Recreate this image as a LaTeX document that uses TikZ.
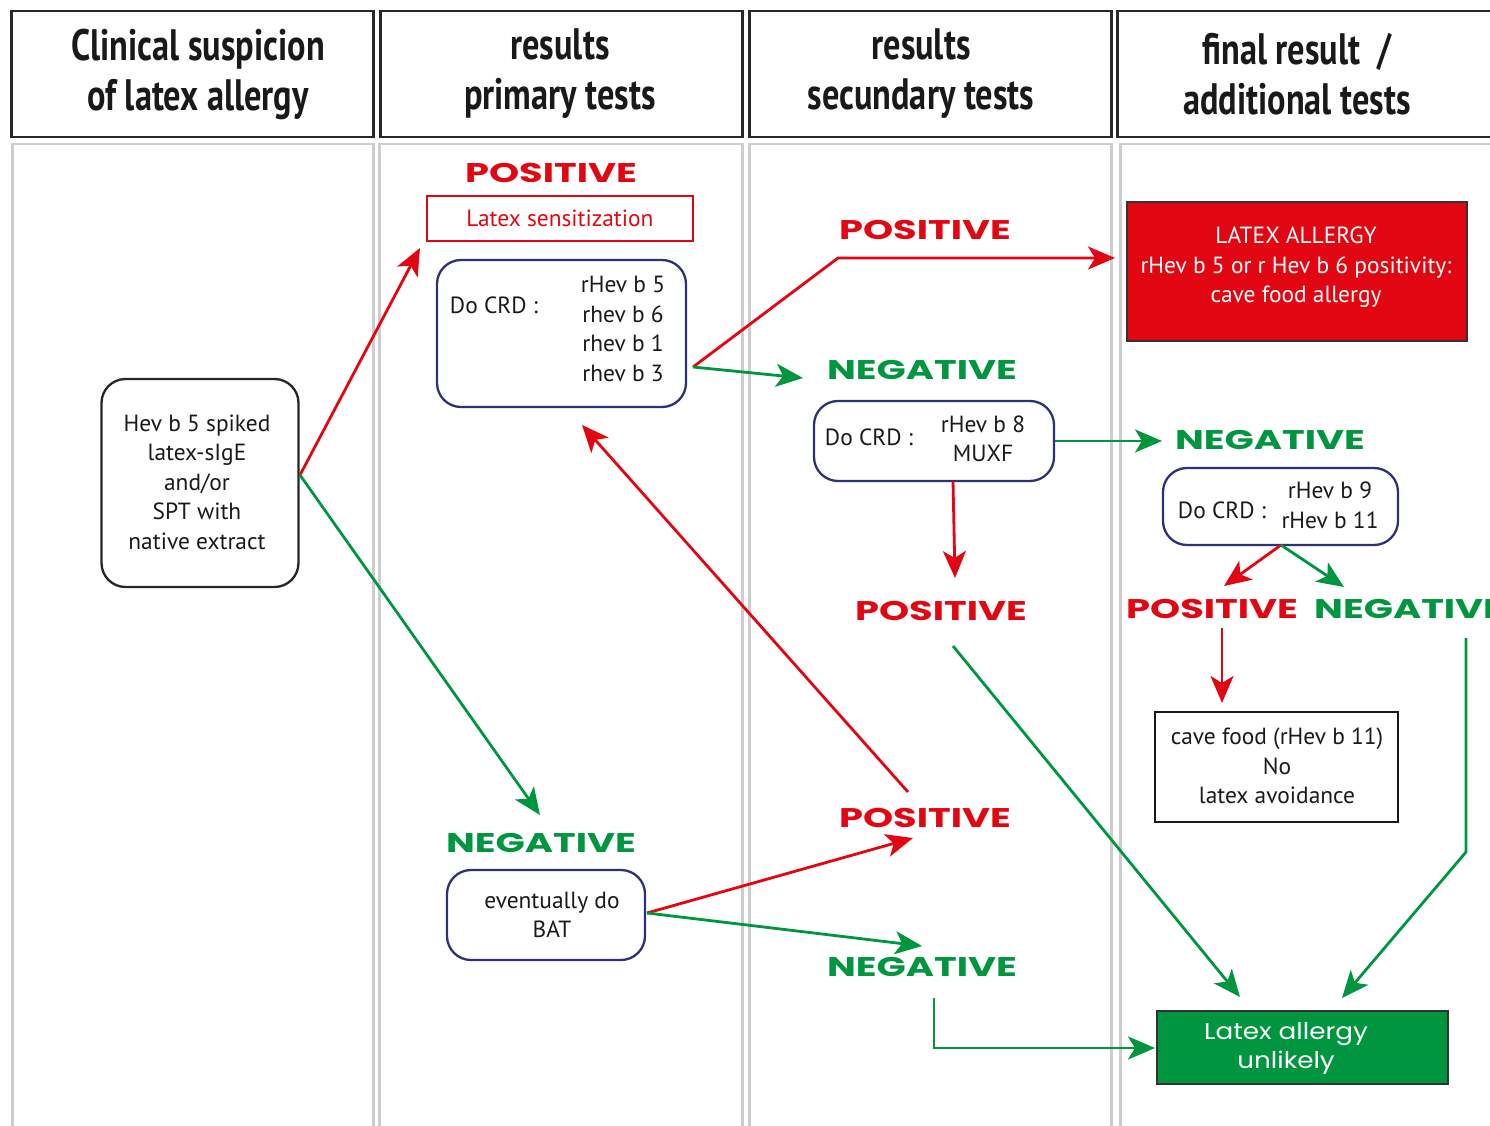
\documentclass[tikz,border=0pt]{standalone}
\usepackage{fontspec}
\setmainfont{PT Sans}
\newfontfamily\headfont[FakeStretch=0.78]{PT Sans}
\newfontfamily\capfont[FakeStretch=1.42]{Poppins}
\newfontfamily\widefont[FakeStretch=1.14]{Poppins}
\usetikzlibrary{arrows.meta}
\definecolor{myred}{RGB}{226,6,19}
\definecolor{mygreen}{RGB}{0,150,64}
\definecolor{myblue}{RGB}{46,49,120}
\definecolor{panelgray}{RGB}{205,205,205}
\definecolor{headline}{RGB}{40,40,40}
\tikzset{
  header/.style={draw=headline, line width=2.5pt, inner sep=0pt},
  headtext/.style={font=\headfont\bfseries\fontsize{44}{50}\selectfont, align=center, text=black!90},
  panel/.style={draw=panelgray, line width=2.5pt},
  rbox/.style={draw=#1, line width=2.3pt, rounded corners=24pt, inner sep=0pt},
  body/.style={font=\fontsize{23.4}{29.5}\selectfont, align=center, text=black!90},
  poslab/.style={font=\capfont\bfseries\fontsize{27}{30}\selectfont, text=myred},
  neglab/.style={font=\capfont\bfseries\fontsize{27}{30}\selectfont, text=mygreen},
  redarrow/.style={draw=myred, line width=2.8pt, -{Stealth[length=27pt,width=23pt,inset=7pt]}},
  greenarrow/.style={draw=mygreen, line width=2.8pt, -{Stealth[length=27pt,width=23pt,inset=7pt]}},
}
\begin{document}
\begin{tikzpicture}[x=1pt,y=-1pt]
\useasboundingbox (0,0) rectangle (1490,1126);
% panels
\node[panel, minimum width=361pt, minimum height=1000pt, anchor=north west] (p1) at (11,143) {};
\node[panel, minimum width=363pt, minimum height=1000pt, anchor=north west] (p2) at (378,143) {};
\node[panel, minimum width=362pt, minimum height=1000pt, anchor=north west] (p3) at (748,143) {};
\node[panel, minimum width=400pt, minimum height=1000pt, anchor=north west] (p4) at (1119,143) {};
% headers
\node[header, minimum width=362pt, minimum height=126pt, anchor=north west] (h1) at (10,10) {};
\node[header, minimum width=362pt, minimum height=126pt, anchor=north west] (h2) at (379,10) {};
\node[header, minimum width=362pt, minimum height=126pt, anchor=north west] (h3) at (748,10) {};
\node[header, minimum width=400pt, minimum height=126pt, anchor=north west] (h4) at (1116,10) {};
\node[headtext] (t1) at (198,74) {Clinical suspicion\\of latex allergy};
\node[headtext] (t2) at (560,74) {results\\primary tests};
\node[headtext] (t3) at (921,74) {results\\secundary tests};
\node[headtext] (t4) at (1297,74) {final result~~/\\additional tests};

% start box
\node[rbox=black!85, minimum width=197pt, minimum height=208pt] (st) at (200,483) {};
\node[body] (stt) at (197,482) {Hev b 5 spiked\\latex-sIgE\\and/or\\SPT with\\native extract};

% primary positive
\node[poslab] (pos1) at (551,173) {POSITIVE};
\node[draw=myred, line width=2pt, minimum width=266pt, minimum height=45pt, inner sep=0pt, font=\fontsize{23.4}{25}\selectfont, text=myred] (ls) at (560,218.5) {Latex sensitization};
\node[rbox=myblue, minimum width=249pt, minimum height=147pt] (crd1) at (561.5,333.5) {};
\node[body] (crd1a) at (494,305) {Do CRD :};
\node[body] (crd1b) at (623,329) {rHev b 5\\rhev b 6\\rhev b 1\\rhev b 3};

% secondary
\node[poslab] (pos2) at (925,230) {POSITIVE};
\node[draw=black!80, line width=1.5pt, fill=myred, minimum width=340pt, minimum height=139pt, inner sep=0pt] (la) at (1297,271.5) {};
\node[body, text=white] (lat) at (1296,267.5) {LATEX ALLERGY\\rHev b 5 or r Hev b 6 positivity:\\cave food allergy};
\node[neglab] (neg1) at (922,370) {NEGATIVE};
\node[rbox=myblue, minimum width=240pt, minimum height=80pt] (crd2) at (934,441) {};
\node[body] (crd2a) at (869,437) {Do CRD :};
\node[body] (crd2b) at (983,439) {rHev b 8\\MUXF};
\node[neglab] (neg2) at (1270,440) {NEGATIVE};
\node[rbox=myblue, minimum width=235pt, minimum height=77pt] (crd3) at (1280.5,506.5) {};
\node[body] (crd3a) at (1222,510) {Do CRD :};
\node[body] (crd3b) at (1330,505.5) {rHev b 9\\rHev b 11};
\node[poslab] (pos3) at (941,611) {POSITIVE};
\node[poslab] (pos4) at (1212,609) {POSITIVE};
\node[neglab, anchor=west, inner sep=0pt] (neg3) at (1314,609) {NEGATIVE};
\node[draw=black!90, line width=2.5pt, minimum width=243pt, minimum height=110pt, inner sep=0pt] (cf) at (1276.5,767) {};
\node[body] (cft) at (1277,766) {cave food (rHev b 11)\\No\\latex avoidance};

% lower
\node[poslab] (pos5) at (925,818) {POSITIVE};
\node[neglab] (neg4) at (541,843) {NEGATIVE};
\node[rbox=myblue, minimum width=198pt, minimum height=90pt] (bat) at (546,915) {};
\node[body] (batt) at (552,915) {eventually do\\BAT};
\node[neglab] (neg5) at (922,967) {NEGATIVE};
\node[draw=black!80, line width=1.5pt, fill=mygreen, minimum width=291pt, minimum height=73pt, inner sep=0pt] (un) at (1302.5,1047.5) {};
\node[font=\widefont\fontsize{23}{29}\selectfont, text=white, align=center] (unt) at (1286,1048.5) {Latex allergy\\unlikely};

% coordinates
\coordinate (stout) at (300,475);
\coordinate (a1e) at (420,248);
\coordinate (a2e) at (540,815);
\coordinate (c1out) at (693,367);
\coordinate (a3m) at (838,258);
\coordinate (a3e) at (1115,258);
\coordinate (a4e) at (803,378);
\coordinate (a5e) at (1162,441);
\coordinate (a6s) at (953,481);
\coordinate (a6e) at (955,578);
\coordinate (c3out) at (1281,545);
\coordinate (a7e) at (1224,586);
\coordinate (a8e) at (1344,587);
\coordinate (a9s) at (1222,628);
\coordinate (a9e) at (1222,703);
\coordinate (a10s) at (1466,638);
\coordinate (a10m) at (1466,852);
\coordinate (a10e) at (1342,998);
\coordinate (a11s) at (953,646);
\coordinate (a11e) at (1240,997);
\coordinate (a12s) at (908,792);
\coordinate (a12e) at (582,425);
\coordinate (batout) at (647,913);
\coordinate (a13e) at (913,838);
\coordinate (a14e) at (922,946);
\coordinate (a15s) at (934,998);
\coordinate (a15m) at (934,1048);
\coordinate (a15e) at (1155,1048);

% arrows
\draw[redarrow] (stout) -- (a1e);
\draw[greenarrow] (stout) -- (a2e);
\draw[redarrow] (c1out) -- (a3m) -- (a3e);
\draw[greenarrow] (c1out) -- (a4e);
\draw[greenarrow] (crd2.east) -- (a5e);
\draw[redarrow] (a6s) -- (a6e);
\draw[redarrow] (c3out) -- (a7e);
\draw[greenarrow] (c3out) -- (a8e);
\draw[redarrow] (a9s) -- (a9e);
\draw[greenarrow] (a10s) -- (a10m) -- (a10e);
\draw[greenarrow] (a11s) -- (a11e);
\draw[redarrow] (a12s) -- (a12e);
\draw[redarrow] (batout) -- (a13e);
\draw[greenarrow] (batout) -- (a14e);
\draw[greenarrow] (a15s) -- (a15m) -- (a15e);
\end{tikzpicture}
\end{document}
